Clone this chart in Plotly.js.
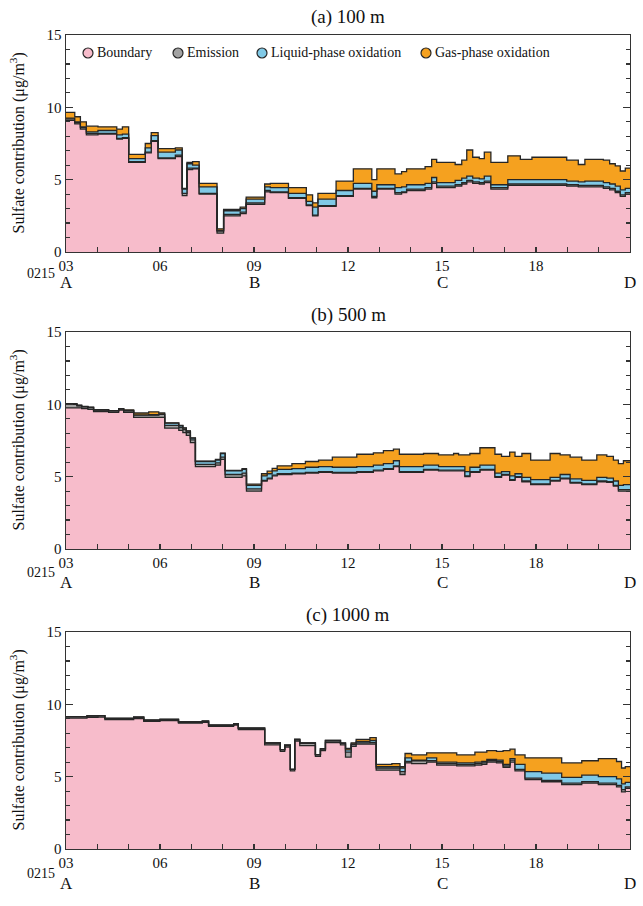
<!DOCTYPE html>
<html>
<head>
<meta charset="utf-8">
<script src="https://cdn.plot.ly/plotly-3.0.1.min.js"></script>
<style>html,body{margin:0;padding:0;background:#fff;}#chart{width:643px;height:906px;}</style>
</head>
<body>
<div id="chart"></div>
<script>
// ---------------- DATA ----------------
const seriesNames = ['Boundary', 'Emission', 'Liquid-phase oxidation', 'Gas-phase oxidation'];
const panelTitles = ['(a) 100 m', '(b) 500 m', '(c) 1000 m'];
const hourTickVals = [3, 6, 9, 12, 15, 18];
const hourTickText = ['03', '06', '09', '12', '15', '18'];
const pointLetters = ['A', 'B', 'C', 'D'];
const pointHours = [3, 9, 15, 21];
const dateLabel = '0215';
const endHour = 21;

// Panel (a) 100 m
const timeA = [3.0,3.28,3.46,3.65,4.02,4.62,4.8,5.0,5.53,5.72,5.94,6.49,6.71,6.86,7.04,7.25,7.82,8.03,8.56,8.75,9.34,9.52,10.1,10.67,10.87,11.04,11.62,12.17,12.76,12.92,13.5,13.71,13.87,14.46,14.67,14.83,15.42,15.63,15.79,15.98,16.19,16.35,16.56,17.1,17.5,17.87,18.98,19.35,19.56,20.15,20.35,20.53,20.69,20.85];
const boundaryA = [9.1,8.85,8.5,8.1,8.15,7.8,7.85,6.2,6.85,7.65,6.45,6.6,3.9,5.7,5.75,4.0,1.3,2.5,2.65,3.3,4.15,4.1,3.7,3.2,2.5,3.15,3.85,4.35,3.75,4.35,4.0,4.1,4.25,4.35,4.75,4.45,4.55,4.7,4.85,4.75,4.7,4.8,4.35,4.6,4.6,4.6,4.55,4.5,4.5,4.4,4.3,4.1,3.85,4.0];
const emissionA = [0.1,0.1,0.1,0.1,0.05,0.05,0.05,0.05,0.05,0.05,0.05,0.1,0.15,0.1,0.05,0.05,0.15,0.1,0.1,0.1,0.1,0.05,0.05,0.05,0.05,0.05,0.05,0.05,0.1,0.05,0.1,0.05,0.1,0.1,0.1,0.1,0.1,0.1,0.1,0.1,0.1,0.1,0.1,0.1,0.1,0.1,0.1,0.1,0.1,0.1,0.1,0.1,0.1,0.1];
const liquidA = [0.05,0.05,0.05,0.1,0.2,0.25,0.25,0.2,0.3,0.35,0.4,0.35,0.3,0.3,0.2,0.45,0.05,0.25,0.25,0.25,0.25,0.3,0.3,0.25,0.55,0.45,0.35,0.35,0.35,0.25,0.35,0.35,0.3,0.3,0.3,0.25,0.3,0.3,0.3,0.25,0.25,0.35,0.2,0.3,0.3,0.3,0.25,0.25,0.3,0.3,0.3,0.35,0.35,0.3];
const gasA = [0.4,0.35,0.35,0.4,0.25,0.4,0.5,0.3,0.3,0.2,0.25,0.15,0.05,0.1,0.25,0.25,0.1,0.1,0.1,0.15,0.2,0.3,0.4,0.45,0.3,0.4,0.65,1.0,0.8,1.1,0.95,1.05,1.1,1.15,1.25,1.4,1.1,1.25,1.8,1.45,1.4,1.65,1.55,1.65,1.4,1.55,1.45,1.2,1.5,1.55,1.4,1.4,1.3,1.4];

// Panel (b) 500 m
const timeB = [3.0,3.35,3.5,3.7,3.88,4.36,4.68,4.84,5.16,5.64,5.96,6.15,6.6,6.73,6.84,6.97,7.13,7.77,7.93,8.08,8.62,8.76,9.24,9.42,9.58,9.74,10.21,10.64,11.06,11.5,12.28,12.81,13.13,13.45,13.64,14.41,14.89,15.37,15.53,15.73,15.89,16.21,16.69,16.9,17.16,17.33,17.55,17.83,18.45,18.77,19.09,19.46,19.94,20.26,20.47,20.63,20.79];
const boundaryB = [9.75,9.75,9.7,9.65,9.5,9.45,9.6,9.45,9.1,9.1,9.1,8.35,8.2,8.05,7.85,7.35,5.7,5.8,6.2,4.95,5.05,4.0,4.7,4.85,5.05,5.15,5.2,5.25,5.3,5.25,5.3,5.4,5.5,5.7,5.3,5.45,5.4,5.4,5.4,5.0,5.3,5.45,4.95,5.1,4.75,4.95,4.65,4.45,4.7,4.85,4.55,4.45,4.65,4.6,4.35,4.0,4.0];
const emissionB = [0.25,0.15,0.12,0.12,0.1,0.1,0.08,0.1,0.15,0.15,0.2,0.2,0.2,0.2,0.2,0.2,0.15,0.15,0.15,0.2,0.2,0.15,0.05,0.05,0.05,0.05,0.05,0.05,0.05,0.05,0.05,0.05,0.05,0.05,0.05,0.05,0.05,0.05,0.05,0.05,0.05,0.05,0.05,0.05,0.05,0.05,0.05,0.05,0.05,0.05,0.05,0.05,0.05,0.05,0.05,0.1,0.1];
const liquidB = [0.02,0.02,0.02,0.02,0.02,0.01,0.01,0.02,0.02,0.03,0.03,0.15,0.12,0.1,0.1,0.12,0.2,0.2,0.25,0.25,0.25,0.25,0.3,0.3,0.3,0.3,0.3,0.35,0.35,0.35,0.35,0.35,0.35,0.35,0.35,0.3,0.25,0.25,0.25,0.3,0.3,0.3,0.25,0.2,0.25,0.2,0.25,0.3,0.2,0.25,0.25,0.25,0.25,0.25,0.3,0.3,0.35];
const gasB = [0.03,0.03,0.02,0.01,0.01,0.0,0.01,0.05,0.13,0.2,0.07,0.02,0.03,0.02,0.02,0.01,0.03,0.05,0.02,0.03,0.05,0.08,0.15,0.18,0.17,0.25,0.35,0.4,0.45,0.7,0.85,0.85,0.9,0.8,0.85,0.8,0.8,0.9,0.8,1.15,0.95,1.2,1.3,1.05,1.65,1.2,1.65,1.35,1.65,1.35,1.5,1.4,1.55,1.5,1.45,1.5,1.65];

// Panel (c) 1000 m
const timeC = [3.0,3.67,4.02,4.24,5.16,5.48,6.0,6.59,7.35,7.55,8.35,8.5,9.34,9.84,9.98,10.16,10.3,10.46,10.96,11.12,11.28,11.76,11.92,12.1,12.26,12.7,12.9,13.4,13.66,13.82,14.03,14.51,14.83,15.47,16.05,16.27,16.43,16.74,16.95,17.17,17.33,17.65,18.18,18.82,19.46,19.99,20.57,20.73,20.85];
const boundaryC = [9.05,9.1,9.12,8.95,9.02,8.83,8.88,8.7,8.75,8.48,8.57,8.25,7.2,6.75,7.05,5.4,7.45,7.15,6.4,6.8,7.35,7.2,6.35,7.1,7.25,7.25,5.45,5.45,5.15,5.95,5.9,6.0,5.8,5.75,5.8,5.85,6.0,5.95,5.65,6.0,5.4,4.8,4.65,4.45,4.55,4.45,4.3,3.95,4.2];
const emissionC = [0.1,0.1,0.1,0.08,0.1,0.08,0.08,0.08,0.08,0.08,0.08,0.1,0.12,0.12,0.12,0.1,0.12,0.15,0.12,0.12,0.12,0.12,0.35,0.12,0.08,0.1,0.15,0.15,0.2,0.1,0.2,0.1,0.1,0.1,0.1,0.1,0.1,0.1,0.1,0.15,0.1,0.1,0.1,0.1,0.1,0.1,0.1,0.15,0.1];
const liquidC = [0,0,0,0,0,0,0,0,0,0,0,0,0.02,0,0,0,0,0.03,0,0,0.03,0,0.15,0.05,0.1,0.15,0.1,0.1,0.25,0.25,0.05,0.2,0.1,0.1,0.1,0.1,0.1,0.1,0.1,0.1,0.35,0.45,0.5,0.4,0.45,0.45,0.45,0.4,0.3];
const gasC = [0,0,0,0,0,0,0,0,0,0,0,0,0,0,0,0,0,0,0,0,0,0,0.1,0.07,0.15,0.2,0.15,0.2,0.1,0.3,0.35,0.35,0.65,0.55,0.7,0.65,0.6,0.6,0.95,0.65,0.65,0.95,1.05,1.0,1.0,1.25,1.2,1.1,1.1];

const panels = [
  {t: timeA, s: [boundaryA, emissionA, liquidA, gasA]},
  {t: timeB, s: [boundaryB, emissionB, liquidB, gasB]},
  {t: timeC, s: [boundaryC, emissionC, liquidC, gasC]}
];

// ---------------- STYLE ----------------
const W = 643, H = 906, ML = 66, MR = 13;
const PW = W - ML - MR;
const fillColors = ['#f7bccb', '#a3a3a3', '#80c9e6', '#f5a11f'];
const edge = '#262626';
const FONT = 'Liberation Serif, Times New Roman, serif';
const frames = [[35, 252], [332, 549], [632, 849]];
const titleY = [16.5, 315, 615];
const letterY = [283, 582, 883];
const dateY = [273, 572, 873];

const px2x = p => (p - ML) / PW;
const py2y = p => 1 - p / H;

const traces = [];
panels.forEach((p, pi) => {
  const suf = pi === 0 ? '' : String(pi + 1);
  p.s.forEach((vals, si) => {
    traces.push({
      type: 'scatter', mode: 'lines',
      x: p.t.concat([endHour]),
      y: vals.concat([vals[vals.length - 1]]),
      xaxis: 'x' + suf, yaxis: 'y' + suf,
      stackgroup: 'g' + pi,
      line: {shape: 'hv', color: edge, width: 1.3},
      fillcolor: fillColors[si],
      name: seriesNames[si],
      showlegend: false, hoverinfo: 'skip'
    });
  });
});

const layout = {
  width: W, height: H,
  margin: {l: ML, r: MR, t: 0, b: 0},
  paper_bgcolor: '#fff', plot_bgcolor: '#fff',
  font: {family: FONT, color: '#111', size: 14},
  showlegend: false,
  annotations: [], shapes: []
};

frames.forEach((fr, pi) => {
  const suf = pi === 0 ? '' : String(pi + 1);
  layout['xaxis' + suf] = {
    domain: [0, 1], range: [3, endHour], anchor: 'y' + suf,
    tickmode: 'array', tickvals: hourTickVals, ticktext: hourTickText,
    ticks: 'inside', ticklen: 5, tickwidth: 1.2, tickcolor: '#333',
    minor: {tickmode: 'linear', tick0: 3, dtick: 1, ticks: 'inside', ticklen: 5, tickwidth: 1.2, tickcolor: '#333'},
    showline: true, mirror: true, linecolor: '#333', linewidth: 1.4,
    showgrid: false, zeroline: false,
    tickfont: {family: FONT, size: 15, color: '#111'}
  };
  layout['yaxis' + suf] = {
    domain: [py2y(fr[1]), py2y(fr[0])], range: [0, 15], anchor: 'x' + suf,
    tickmode: 'linear', tick0: 0, dtick: 5,
    ticks: 'inside', ticklen: 7, tickwidth: 1.2, tickcolor: '#333',
    minor: {tickmode: 'linear', tick0: 0, dtick: 1, ticks: 'inside', ticklen: 4, tickwidth: 1.2, tickcolor: '#333'},
    showline: true, mirror: 'ticks', linecolor: '#333', linewidth: 1.4,
    showgrid: false, zeroline: false,
    tickfont: {family: FONT, size: 15, color: '#111'}
  };
  layout.annotations.push({
    text: panelTitles[pi], xref: 'paper', yref: 'paper',
    x: 0.5, y: py2y(titleY[pi]), xanchor: 'center', yanchor: 'middle',
    showarrow: false, font: {family: FONT, size: 19, color: '#111'}
  });
  layout.annotations.push({
    text: 'Sulfate contribution (μg/m<sup>3</sup>)', textangle: -90,
    xref: 'paper', yref: 'paper', x: px2x(18), y: py2y((fr[0] + fr[1]) / 2),
    xanchor: 'center', yanchor: 'middle', showarrow: false,
    font: {family: FONT, size: 16, color: '#111'}
  });
  pointLetters.forEach((L, li) => {
    layout.annotations.push({
      text: L, xref: 'x' + suf, yref: 'paper', x: pointHours[li], y: py2y(letterY[pi]),
      xanchor: 'center', yanchor: 'middle', showarrow: false,
      font: {family: FONT, size: 17, color: '#111'}
    });
  });
  layout.annotations.push({
    text: dateLabel, xref: 'paper', yref: 'paper', x: px2x(41), y: py2y(dateY[pi]),
    xanchor: 'center', yanchor: 'middle', showarrow: false,
    font: {family: FONT, size: 14, color: '#111'}
  });
});

const legCx = [88, 178, 262, 426];
const legY = 53;
seriesNames.forEach((nm, i) => {
  layout.shapes.push({
    type: 'circle', xref: 'paper', yref: 'paper',
    x0: px2x(legCx[i] - 5), x1: px2x(legCx[i] + 5),
    y0: py2y(legY + 5), y1: py2y(legY - 5),
    fillcolor: fillColors[i], line: {color: edge, width: 1.2}
  });
  layout.annotations.push({
    text: nm, xref: 'paper', yref: 'paper', x: px2x(legCx[i] + 7), y: py2y(legY),
    xanchor: 'left', yanchor: 'middle', showarrow: false,
    font: {family: FONT, size: 14, color: '#111'}
  });
});

Plotly.newPlot('chart', traces, layout, {displayModeBar: false, staticPlot: true});
</script>
</body>
</html>
